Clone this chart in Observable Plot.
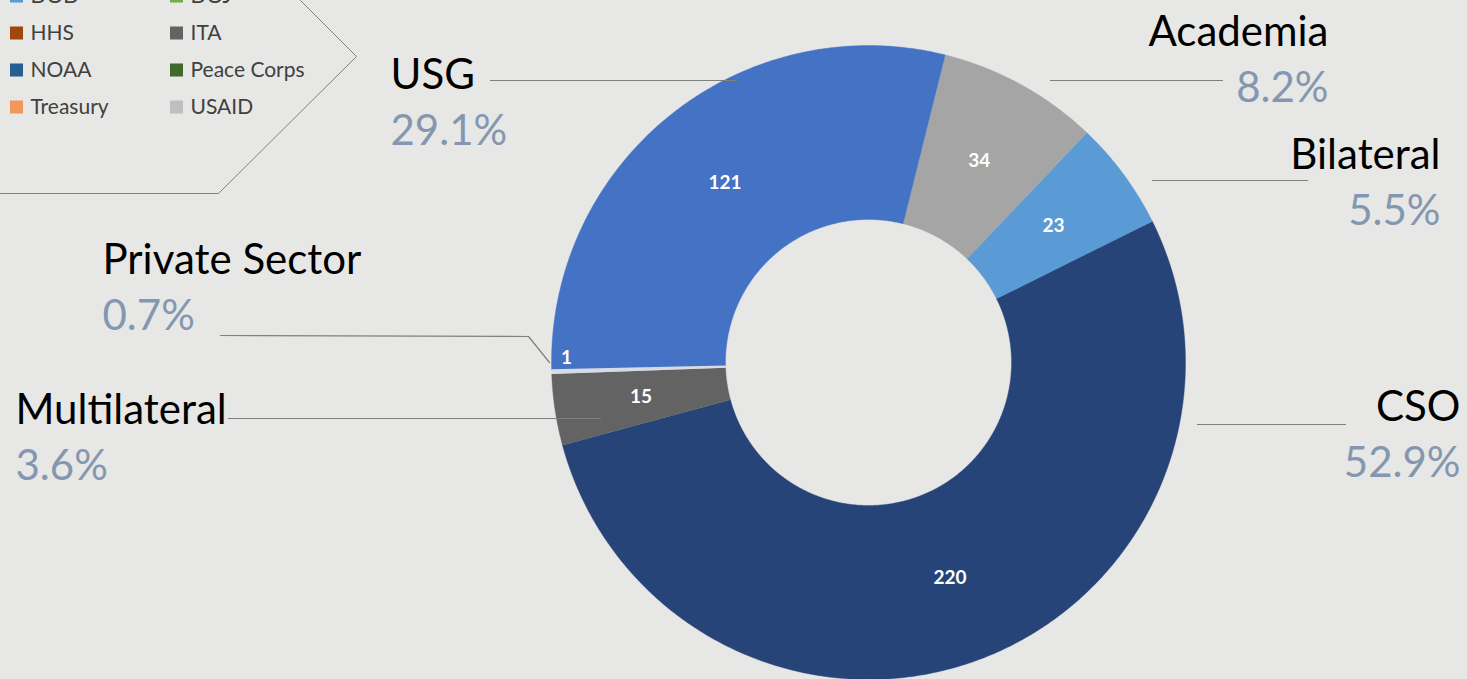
<!DOCTYPE html>
<html><head><meta charset="utf-8">
<script src="https://cdn.jsdelivr.net/npm/d3@7"></script>
<script src="https://cdn.jsdelivr.net/npm/@observablehq/plot@0.6"></script>
<style>html,body{margin:0;padding:0;background:#E7E7E5;overflow:hidden}</style>
</head><body><div id="chart"></div><script>
// ---- data ----
const categories = ["Academia", "Bilateral", "CSO", "Multilateral", "Private Sector", "USG"];
const counts = [34, 23, 220, 15, 1, 121];
const percentLabels = ["8.2%", "5.5%", "52.9%", "3.6%", "0.7%", "29.1%"];
const sliceColors = ["#A5A5A5", "#5B9BD5", "#264478", "#636363", "#D6DCE5", "#4472C4"];
const legendItems = ["DOD", "DOJ", "HHS", "ITA", "NOAA", "Peace Corps", "Treasury", "USAID"];
const legendColors = ["#5B9BD5", "#70AD47", "#9E480E", "#636363", "#255E91", "#43682B", "#F1975A", "#BFBFBF"];

// ---- layout ----
const W = 1467, H = 679;
const cx = 868, cy = 362, R = 317, R0 = 143, RL = 230;
const startDeg = 14;
const labelRadius = [RL, RL, RL, RL, 302, RL];
const labelShiftDeg = [0, 0, 0, 0, 2.5, 0];
const nameLayout = [
  {x: 1328, y: 45, anchor: "end"},
  {x: 1440, y: 168, anchor: "end"},
  {x: 1460, y: 420, anchor: "end"},
  {x: 15, y: 423, anchor: "start"},
  {x: 102, y: 273, anchor: "start"},
  {x: 390, y: 88, anchor: "start"}
];
const pctGap = 56;
const leaders = [
  [[1050, 80], [1222, 80]],
  [[1152, 180], [1307, 180]],
  [[1197, 424], [1345, 424]],
  [[228, 418], [600, 418]],
  [[220, 335], [528, 336], [549, 362]],
  [[490, 80], [736, 80]]
];

const rad = d => d * Math.PI / 180;
const arcs = d3.pie().sort(null).startAngle(rad(startDeg)).endAngle(rad(startDeg) + 2 * Math.PI)(counts);
const pt = (a, r) => [cx + r * Math.sin(a), cy - r * Math.cos(a)];

const slicePts = [];
arcs.forEach((a, i) => {
  const n = Math.max(4, Math.ceil((a.endAngle - a.startAngle) / rad(0.5)));
  const pts = [];
  for (let k = 0; k <= n; k++) pts.push(pt(a.startAngle + (a.endAngle - a.startAngle) * k / n, R));
  for (let k = n; k >= 0; k--) pts.push(pt(a.startAngle + (a.endAngle - a.startAngle) * k / n, R0));
  pts.forEach(p => slicePts.push({cat: categories[i], color: sliceColors[i], x: p[0], y: p[1]}));
});

const valueLabels = arcs.map((a, i) => {
  const m = (a.startAngle + a.endAngle) / 2 + rad(labelShiftDeg[i]);
  const p = pt(m, labelRadius[i]);
  return {x: p[0], y: p[1], text: String(counts[i])};
});

const names = categories.map((c, i) => ({...nameLayout[i], text: c}));
const pcts = percentLabels.map((p, i) => ({...nameLayout[i], y: nameLayout[i].y + pctGap, text: p}));
const leaderPts = leaders.flatMap((l, i) => l.map(p => ({cat: categories[i], x: p[0], y: p[1]})));

const legend = legendItems.map((t, i) => {
  const col = i % 2, row = Math.floor(i / 2);
  const yc = -4 + 37 * row;
  return {text: t, color: legendColors[i], x1: 10 + 160 * col, x2: 23 + 160 * col, y1: yc - 6.5, y2: yc + 6.5, tx: 30 + 160 * col, y: yc};
});
const chevron = [[0, 193], [218, 193], [356, 56], [300, 0]].map(p => ({x: p[0], y: p[1]}));

const outerText = (data, fill) => ["start", "end"].map(anchor =>
  Plot.text(data.filter(d => d.anchor === anchor), {x: "x", y: "y", text: "text", textAnchor: anchor, fill, fontSize: 42, lineAnchor: "bottom"}));

const chart = Plot.plot({
  width: W, height: H, margin: 0,
  x: {domain: [0, W], range: [0, W], axis: null},
  y: {domain: [0, H], range: [0, H], axis: null},
  style: {background: "transparent", fontFamily: "Lato, sans-serif"},
  marks: [
    Plot.line(chevron, {x: "x", y: "y", stroke: "#808080", strokeWidth: 1}),
    Plot.rect(legend, {x1: "x1", x2: "x2", y1: "y1", y2: "y2", fill: "color"}),
    Plot.text(legend, {x: "tx", y: "y", text: "text", textAnchor: "start", fill: "#404040", fontSize: 21, lineAnchor: "middle"}),
    Plot.line(slicePts, {x: "x", y: "y", z: "cat", fill: "color", stroke: "color", strokeWidth: 0.4, curve: "linear"}),
    Plot.line(leaderPts, {x: "x", y: "y", z: "cat", stroke: "#7F7F7F", strokeWidth: 1.2}),
    Plot.text(valueLabels, {x: "x", y: "y", text: "text", fill: "white", fontWeight: "bold", fontSize: 19, lineAnchor: "middle", style: "letter-spacing:1.5px"}),
    ...outerText(names, "#000"),
    ...outerText(pcts, "#8497B0")
  ]
});
document.getElementById("chart").appendChild(chart);
</script></body></html>
